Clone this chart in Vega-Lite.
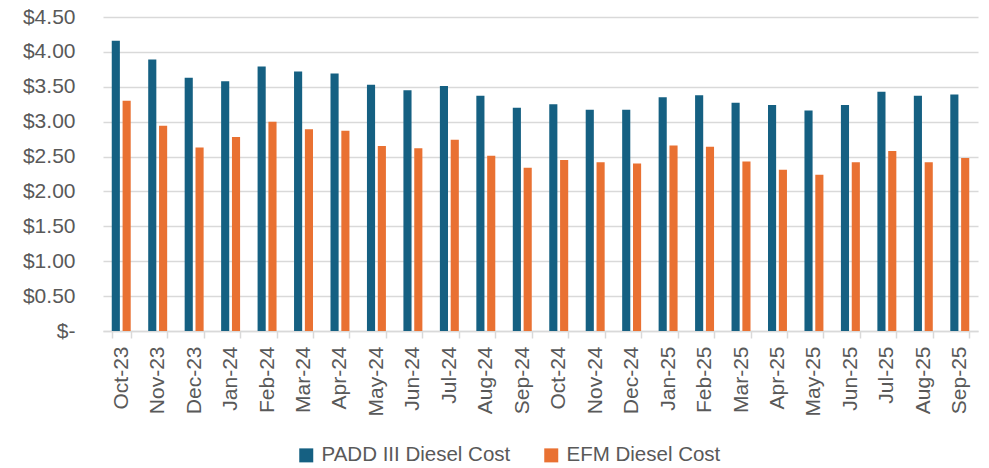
{
  "$schema": "https://vega.github.io/schema/vega-lite/v6.json",
  "width": 875,
  "height": 314,
  "autosize": {"type": "none"},
  "padding": {"left": 103, "top": 17, "right": 11, "bottom": 137},
  "background": "white",
  "config": {
    "view": {"stroke": null},
    "font": "Liberation Sans",
    "axis": {"labelFont": "Liberation Sans", "labelColor": "#595959", "labelFontSize": 21},
    "legend": {"labelFont": "Liberation Sans", "labelColor": "#595959", "labelFontSize": 20.5, "labelLimit": 400}
  },
  "data": {
    "values": [
      {"month": "Oct-23", "series": "PADD III Diesel Cost", "value": 4.16},
      {"month": "Oct-23", "series": "EFM Diesel Cost", "value": 3.30},
      {"month": "Nov-23", "series": "PADD III Diesel Cost", "value": 3.89},
      {"month": "Nov-23", "series": "EFM Diesel Cost", "value": 2.94},
      {"month": "Dec-23", "series": "PADD III Diesel Cost", "value": 3.63},
      {"month": "Dec-23", "series": "EFM Diesel Cost", "value": 2.63},
      {"month": "Jan-24", "series": "PADD III Diesel Cost", "value": 3.58},
      {"month": "Jan-24", "series": "EFM Diesel Cost", "value": 2.78},
      {"month": "Feb-24", "series": "PADD III Diesel Cost", "value": 3.79},
      {"month": "Feb-24", "series": "EFM Diesel Cost", "value": 3.00},
      {"month": "Mar-24", "series": "PADD III Diesel Cost", "value": 3.72},
      {"month": "Mar-24", "series": "EFM Diesel Cost", "value": 2.89},
      {"month": "Apr-24", "series": "PADD III Diesel Cost", "value": 3.69},
      {"month": "Apr-24", "series": "EFM Diesel Cost", "value": 2.87},
      {"month": "May-24", "series": "PADD III Diesel Cost", "value": 3.53},
      {"month": "May-24", "series": "EFM Diesel Cost", "value": 2.65},
      {"month": "Jun-24", "series": "PADD III Diesel Cost", "value": 3.45},
      {"month": "Jun-24", "series": "EFM Diesel Cost", "value": 2.62},
      {"month": "Jul-24", "series": "PADD III Diesel Cost", "value": 3.51},
      {"month": "Jul-24", "series": "EFM Diesel Cost", "value": 2.74},
      {"month": "Aug-24", "series": "PADD III Diesel Cost", "value": 3.37},
      {"month": "Aug-24", "series": "EFM Diesel Cost", "value": 2.51},
      {"month": "Sep-24", "series": "PADD III Diesel Cost", "value": 3.20},
      {"month": "Sep-24", "series": "EFM Diesel Cost", "value": 2.34},
      {"month": "Oct-24", "series": "PADD III Diesel Cost", "value": 3.25},
      {"month": "Oct-24", "series": "EFM Diesel Cost", "value": 2.45},
      {"month": "Nov-24", "series": "PADD III Diesel Cost", "value": 3.17},
      {"month": "Nov-24", "series": "EFM Diesel Cost", "value": 2.42},
      {"month": "Dec-24", "series": "PADD III Diesel Cost", "value": 3.17},
      {"month": "Dec-24", "series": "EFM Diesel Cost", "value": 2.40},
      {"month": "Jan-25", "series": "PADD III Diesel Cost", "value": 3.35},
      {"month": "Jan-25", "series": "EFM Diesel Cost", "value": 2.66},
      {"month": "Feb-25", "series": "PADD III Diesel Cost", "value": 3.38},
      {"month": "Feb-25", "series": "EFM Diesel Cost", "value": 2.64},
      {"month": "Mar-25", "series": "PADD III Diesel Cost", "value": 3.27},
      {"month": "Mar-25", "series": "EFM Diesel Cost", "value": 2.43},
      {"month": "Apr-25", "series": "PADD III Diesel Cost", "value": 3.24},
      {"month": "Apr-25", "series": "EFM Diesel Cost", "value": 2.31},
      {"month": "May-25", "series": "PADD III Diesel Cost", "value": 3.16},
      {"month": "May-25", "series": "EFM Diesel Cost", "value": 2.24},
      {"month": "Jun-25", "series": "PADD III Diesel Cost", "value": 3.24},
      {"month": "Jun-25", "series": "EFM Diesel Cost", "value": 2.42},
      {"month": "Jul-25", "series": "PADD III Diesel Cost", "value": 3.43},
      {"month": "Jul-25", "series": "EFM Diesel Cost", "value": 2.58},
      {"month": "Aug-25", "series": "PADD III Diesel Cost", "value": 3.37},
      {"month": "Aug-25", "series": "EFM Diesel Cost", "value": 2.42},
      {"month": "Sep-25", "series": "PADD III Diesel Cost", "value": 3.39},
      {"month": "Sep-25", "series": "EFM Diesel Cost", "value": 2.48}
    ]
  },
  "mark": {"type": "bar"},
  "encoding": {
    "x": {
      "field": "month",
      "type": "nominal",
      "sort": null,
      "scale": {"paddingInner": 0.48, "paddingOuter": 0.24},
      "axis": {
        "title": null,
        "labelAngle": -90,
        "domainColor": "#d9d9d9",
        "domainWidth": 1.5,
        "tickColor": "#d9d9d9",
        "tickWidth": 1.5,
        "tickSize": 7,
        "tickBand": "extent",
        "labelPadding": 8,
        "grid": false
      }
    },
    "xOffset": {
      "field": "series",
      "type": "nominal",
      "sort": ["PADD III Diesel Cost", "EFM Diesel Cost"],
      "scale": {"paddingInner": 0.25}
    },
    "y": {
      "field": "value",
      "type": "quantitative",
      "scale": {"domain": [0, 4.5], "nice": false},
      "axis": {
        "title": null,
        "values": [0, 0.5, 1, 1.5, 2, 2.5, 3, 3.5, 4, 4.5],
        "labelExpr": "datum.value == 0 ? '$-\u00a0\u00a0\u00a0' : '$' + format(datum.value, '.2f')",
        "domain": false,
        "ticks": false,
        "labelPadding": 28,
        "gridColor": "#d9d9d9",
        "gridWidth": 1.5
      }
    },
    "color": {
      "field": "series",
      "type": "nominal",
      "scale": {
        "domain": ["PADD III Diesel Cost", "EFM Diesel Cost"],
        "range": ["#156082", "#E97132"]
      },
      "legend": {
        "title": null,
        "orient": "none",
        "direction": "horizontal",
        "legendX": 193,
        "legendY": 428,
        "symbolType": "square",
        "symbolSize": 196,
        "symbolStrokeWidth": 0,
        "labelOffset": 5,
        "columnPadding": 30
      }
    }
  }
}
